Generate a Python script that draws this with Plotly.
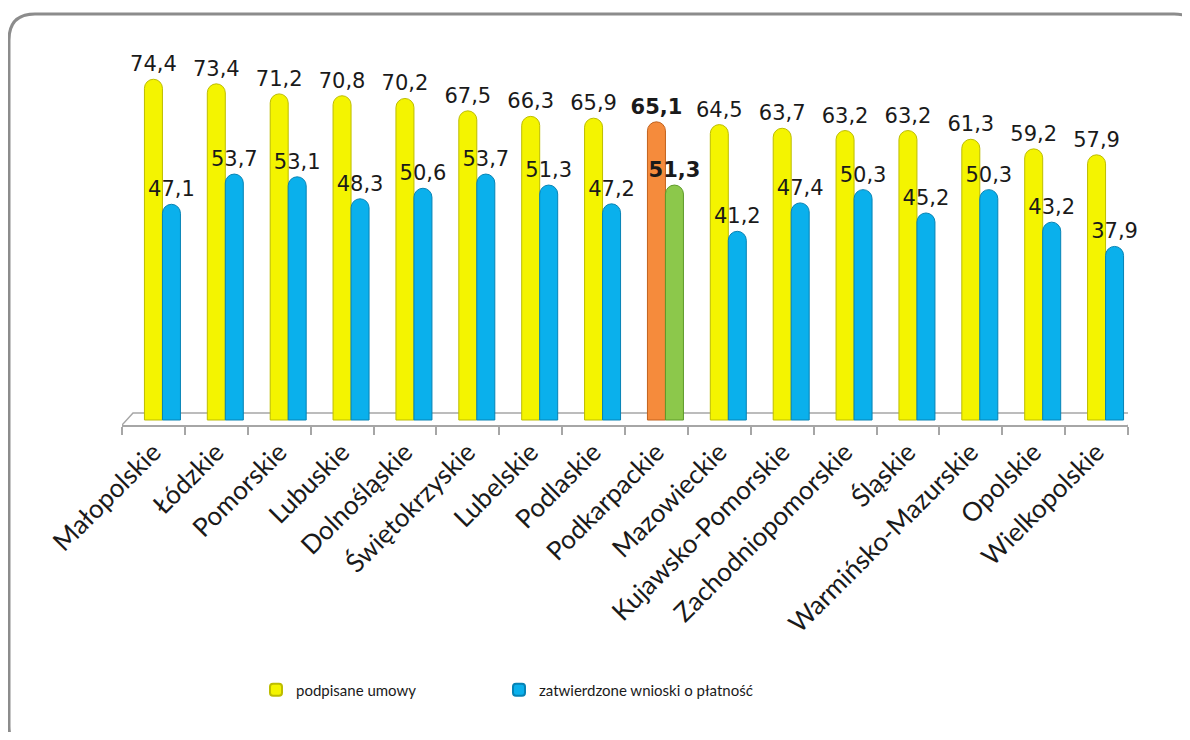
import plotly.graph_objects as go

regions = ["Małopolskie", "Łódzkie", "Pomorskie", "Lubuskie", "Dolnośląskie",
           "Świętokrzyskie", "Lubelskie", "Podlaskie", "Podkarpackie", "Mazowieckie",
           "Kujawsko-Pomorskie", "Zachodniopomorskie", "Śląskie", "Warmińsko-Mazurskie",
           "Opolskie", "Wielkopolskie"]
umowy = [74.4, 73.4, 71.2, 70.8, 70.2, 67.5, 66.3, 65.9, 65.1, 64.5, 63.7, 63.2, 63.2, 61.3, 59.2, 57.9]
wnioski = [47.1, 53.7, 53.1, 48.3, 50.6, 53.7, 51.3, 47.2, 51.3, 41.2, 47.4, 50.3, 45.2, 50.3, 43.2, 37.9]
series_names = ["podpisane umowy", "zatwierdzone wnioski o płatność"]
highlight = "Podkarpackie"

# geometry: reference pixel coords, page body margin is 8px
OFF = 8
W, H = 1190 - 2 * OFF, 740 - 2 * OFF
PL, PR, PT, PB = 122 - OFF, 1128 - OFF, 54 - OFF, 425 - OFF
y0_px = 420 - OFF
ppu = 4.58
ymax = (y0_px - PT) / ppu
ymin = -(PB - y0_px) / ppu
catw = (PR - PL) / len(regions)
bw = 18 / catw


def fmt(v, bold):
    s = f"{v:.1f}".replace(".", ",")
    return f"<b>{s}</b>" if bold else s


def colors(base, special):
    return [special if r == highlight else base for r in regions]


label_font = dict(family="DejaVu Sans", size=21, color="#1a1a1a")

fig = go.Figure()
fig.add_trace(go.Bar(
    x=regions, y=umowy, name=series_names[0], legend="legend",
    width=bw, offset=-bw / 2,
    marker=dict(color=colors("#F4F400", "#F58B3C"),
                line=dict(color=colors("#BDBD00", "#C2611C"), width=1),
                cornerradius=9),
    text=[fmt(v, r == highlight) for v, r in zip(umowy, regions)],
    textposition="outside", constraintext="none", cliponaxis=False,
    textfont=label_font,
))
fig.add_trace(go.Bar(
    x=regions, y=wnioski, name=series_names[1], legend="legend2",
    width=bw, offset=bw / 2,
    marker=dict(color=colors("#0AB0EC", "#8CC84B"),
                line=dict(color=colors("#0683B5", "#5E9A2A"), width=1),
                cornerradius=9),
    text=[fmt(v, r == highlight) for v, r in zip(wnioski, regions)],
    textposition="outside", constraintext="none", cliponaxis=False,
    textfont=label_font,
))


def px2paper(px, py):
    px -= OFF
    py -= OFF
    return (px - PL) / (PR - PL), (PB - py) / (PB - PT)


def P(px, py):
    x, y = px2paper(px, py)
    return f"{x:.5f},{y:.5f}"


# rounded border (reference px)
L, T, R, B, rad = 9, 14, 1200, 752, 26
path = (f"M {P(L, T + rad)} Q {P(L, T)} {P(L + rad, T)} L {P(R - rad, T)} "
        f"Q {P(R, T)} {P(R, T + rad)} L {P(R, B - rad)} Q {P(R, B)} {P(R - rad, B)} "
        f"L {P(L + rad, B)} Q {P(L, B)} {P(L, B - rad)} Z")

# 3D floor outline (data coords)
back_y = (y0_px - (413 - OFF)) / ppu
bx0 = -0.5 + 11 / catw
bx1 = len(regions) - 0.5 + 17 / catw
floor = (f"M -0.5,{ymin} L {bx0},{back_y} L {bx1},{back_y} L {len(regions) - 0.5},{ymin}")

lx1, ly = px2paper(256, 690)
lx2, _ = px2paper(499, 690)
legend_common = dict(orientation="h", y=ly, xanchor="left", yanchor="middle",
                     font=dict(family="Lato", size=15, color="#1a1a1a"),
                     itemsizing="constant", bgcolor="rgba(0,0,0,0)")

fig.update_layout(
    width=W, height=H,
    margin=dict(l=PL, r=W - PR, t=PT, b=H - PB),
    paper_bgcolor="white", plot_bgcolor="rgba(0,0,0,0)",
    barmode="overlay",
    showlegend=True,
    legend=dict(x=lx1, **legend_common),
    legend2=dict(x=lx2, **legend_common),
    xaxis=dict(type="category", range=[-0.5, len(regions) - 0.5],
               showline=True, linecolor="#A6A6A6", linewidth=1.5,
               ticks="outside", tickson="boundaries", ticklen=8,
               tickcolor="#A6A6A6", tickwidth=1.5,
               tickangle=-45, showgrid=False,
               tickfont=dict(family="Lato", size=26, color="#1a1a1a")),
    yaxis=dict(range=[ymin, ymax], visible=False, showgrid=False),
    shapes=[
        dict(type="path", path=path, xref="paper", yref="paper",
             line=dict(color="#8C8C8C", width=3), layer="below"),
        dict(type="path", path=floor, xref="x", yref="y",
             line=dict(color="#A6A6A6", width=1.5), layer="below"),
    ],
)

fig.write_html("out.html")
